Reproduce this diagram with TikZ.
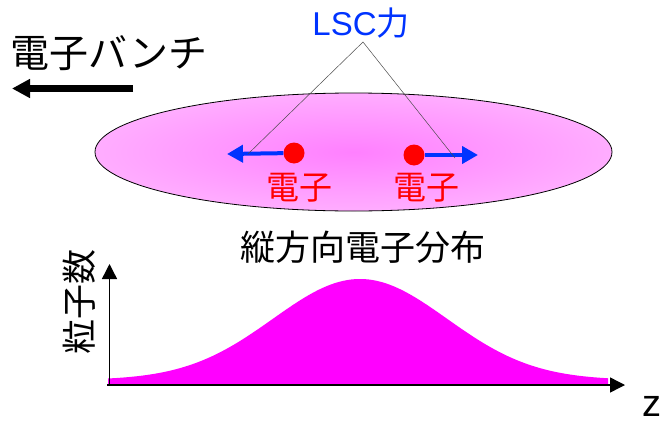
\documentclass[tikz,border=0pt]{standalone}
\usepackage{fontspec}
\setmainfont{Liberation Sans}
\newfontfamily\jp{Noto Sans CJK JP}
\usetikzlibrary{arrows.meta}
\definecolor{lscblue}{RGB}{0,51,255}
\definecolor{ellin}{RGB}{255,128,255}
\definecolor{ellout}{RGB}{255,218,255}
\definecolor{distmag}{RGB}{255,0,255}
\pgfdeclareradialshading{bunchshade}{\pgfpoint{0bp}{0bp}}{color(0bp)=(ellin); color(50bp)=(ellout); color(72bp)=(ellout)}
\tikzset{
  lbl/.style={inner sep=0pt, font=#1},
  bluearrow/.style={draw=lscblue, line width=4pt, -{Triangle[length=16pt,width=17pt]}},
  axisarrow/.style={draw=black, line width=1.4pt, -{Triangle[length=15pt,width=15pt]}},
  pointer/.style={draw=black!70, line width=0.5pt},
  electron/.style={circle, fill=red, minimum size=21pt, inner sep=0pt}
}
\begin{document}
\begin{tikzpicture}[x=1pt,y=-1pt]
\useasboundingbox (0,0) rectangle (663,423);
% bunch
\draw[black, line width=0.8pt, shading=bunchshade]
  (353.5,152) ellipse [x radius=258.5pt, y radius=59pt];
% title
\node[lbl={\fontsize{39}{42}\selectfont\jp}] (bunch) at (109,53) {電子バンチ};
\coordinate (b1) at (133,88.5);
\coordinate (b2) at (12,88.5);
\draw[line width=7pt, -{Triangle[length=18pt,width=18pt]}] (b1) -- (b2);
% electrons
\coordinate (t1) at (227,154);
\coordinate (t2) at (478,155);
\node[electron] (e1) at (294,153) {};
\node[electron] (e2) at (414,155) {};
\draw[bluearrow] (e1) -- (t1);
\draw[bluearrow] (e2) -- (t2);
\node[lbl={\fontsize{33}{36}\selectfont\jp}, text=red] (l1) at (299.5,187.5) {電子};
\node[lbl={\fontsize{33}{36}\selectfont\jp}, text=red] (l2) at (426,187.5) {電子};
% LSC
\node[lbl={\fontsize{33}{36}\selectfont}, text=lscblue, anchor=base] (lsc) at (361,35) {LSC{\jp 力}};
\coordinate (apex) at (363,42);
\coordinate (p1) at (248,154);
\coordinate (p2) at (455,158);
\draw[pointer] (p1) -- (apex) -- (p2);
% distribution
\node[lbl={\fontsize{35}{38}\selectfont\jp}] (dist) at (363,247) {縦方向電子分布};
\fill[distmag] (108,385) -- plot[domain=108:608, samples=120] (\x, {385-(5+101*exp(-((\x-360)/100)^2/1.5138))}) -- (608,385) -- cycle;
\coordinate (o) at (109.5,385);
\coordinate (xs) at (107,385);
\coordinate (xe) at (625,385);
\coordinate (ye) at (109.5,264);
\draw[axisarrow] (xs) -- (xe);
\draw[axisarrow] (o) -- (ye);
\node[lbl={\fontsize{35}{38}\selectfont\jp}, rotate=90] (ylab) at (79,302) {粒子数};
\node[lbl={\fontsize{38}{40}\selectfont}] (zlab) at (651.5,406) {z};
\end{tikzpicture}
\end{document}
